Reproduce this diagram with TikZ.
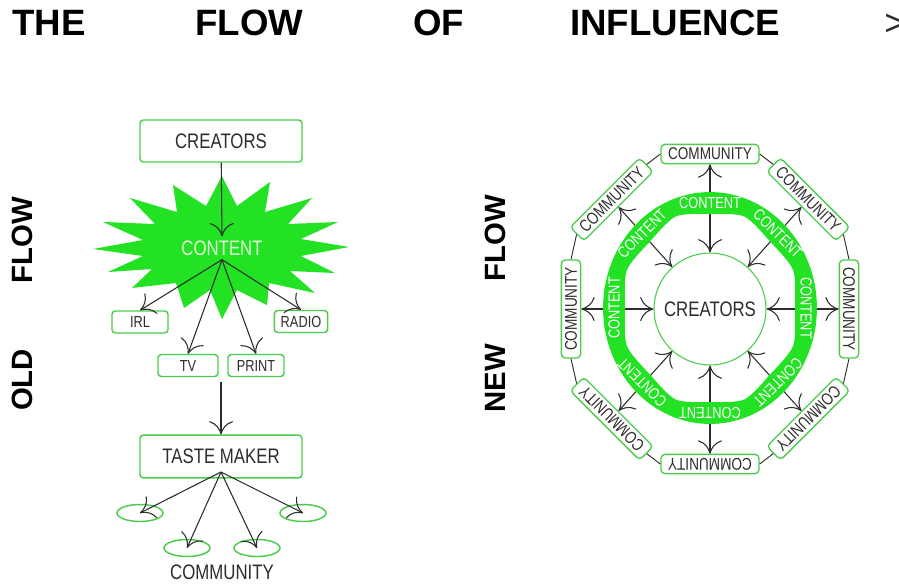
\documentclass[tikz,border=0pt]{standalone}
\usepackage{fontspec}
\setmainfont{Liberation Sans}
\newfontfamily\nf[FakeStretch=0.8]{Liberation Sans}
\usetikzlibrary{arrows.meta,shapes.geometric}
\definecolor{gfill}{RGB}{35,225,35}
\definecolor{gline}{RGB}{75,205,75}
\definecolor{ink}{RGB}{45,45,45}
\definecolor{pale}{RGB}{225,255,215}
\begin{document}
\begin{tikzpicture}[x=0.75pt,y=-0.75pt,
  box/.style={draw=gline, line width=1.1pt, rounded corners=2.5pt, inner sep=0pt, text=ink, font=\nf\fontsize{15.75}{18}\selectfont},
  sbox/.style={box, minimum height=16.5pt, font=\nf\fontsize{12}{14}\selectfont},
  cbox/.style={draw=gline, line width=1pt, rounded corners=3pt, inner sep=0pt, minimum width=73.5pt, minimum height=14.5pt, fill=white, text=ink, font=\nf\fontsize{12.75}{14}\selectfont},
  oval/.style={ellipse, draw=gline, line width=1.1pt, minimum width=34.5pt, minimum height=12.75pt, inner sep=0pt},
  arr/.style={draw=ink, line width=0.8pt, -{To[length=10pt,width=18pt]}},
  darr/.style={draw=ink, line width=0.8pt, {To[length=10pt,width=18pt]}-{To[length=10pt,width=18pt]}},
  ttl/.style={font=\bfseries\fontsize{27.5}{30}\selectfont, text=black, inner sep=0pt, anchor=base west},
  side/.style={font=\bfseries\fontsize{22}{24}\selectfont, text=black, rotate=90, inner sep=0pt},
  lbl/.style={font=\nf\fontsize{15.75}{18}\selectfont, text=ink},
]
\useasboundingbox (0,0) rectangle (899,583);
\fill[white] (0,0) rectangle (899,583);

% title
\node[ttl] (t1) at (12,35) {THE};
\node[ttl] (t2) at (195,35) {FLOW};
\node[ttl] (t3) at (413,35) {OF};
\node[ttl] (t4) at (570,35) {INFLUENCE};
\node[ttl, font=\fontsize{27.5}{30}\selectfont, text=ink] (t5) at (884,35) {>};

% side labels
\node[side] (sf1) at (22,240) {FLOW};
\node[side] (so) at (22,380) {OLD};
\node[side] (sf2) at (495,238) {FLOW};
\node[side] (sn) at (495,378) {NEW};

% ---------- OLD FLOW ----------
\fill[gfill, shift={(222,248)}]
  (-129,1) -- (-79,-8) -- (-119,-26) -- (-67,-24) -- (-92,-50) -- (-45,-36)
  -- (-49,-63) -- (-16,-42) -- (0,-72) -- (15,-42) -- (48,-66) -- (43,-36)
  -- (90,-50) -- (66,-24) -- (116,-26) -- (79,-9) -- (127,-1) -- (79,8)
  -- (113,25) -- (68,23) -- (93,45) -- (47,35) -- (45,57) -- (15,42)
  -- (0,71) -- (-12,42) -- (-38,60) -- (-46,35) -- (-90,40) -- (-70,21)
  -- (-114,24) -- (-79,8) -- cycle;
\node[lbl, text=pale, inner sep=3pt] (cnt) at (222,248) {CONTENT};

\node[box, minimum width=121.5pt, minimum height=31.5pt] (cr) at (221,141) {CREATORS};
\node[sbox, minimum width=42pt] (irl) at (140,322) {IRL};
\node[sbox, minimum width=40pt] (rad) at (301,321.5) {RADIO};
\node[sbox, minimum width=45pt] (tv) at (188,365.5) {TV};
\node[sbox, minimum width=42pt] (pr) at (256,365.5) {PRINT};
\node[box, minimum width=121.5pt, minimum height=32pt] (tm) at (221,456.5) {TASTE MAKER};
\node[oval] (e1) at (140,513) {};
\node[oval] (e2) at (187,548) {};
\node[oval] (e3) at (257,548) {};
\node[oval] (e4) at (303,513) {};
\node[lbl] (com) at (222,572) {COMMUNITY};

\draw[arr] (cr) -- (cnt.north);
\draw[arr] (cnt.south) -- (irl.north);
\draw[arr] (cnt.south) -- (tv.north);
\draw[arr] (cnt.south) -- (pr.north);
\draw[arr] (cnt.south) -- (rad.north);
\coordinate (mid) at (221,382);
\draw[arr] (mid) -- (tm.north);
\coordinate (tmf) at (221,472);
\draw[arr] (tmf) -- (e1.center);
\draw[arr] (tmf) -- (e2.center);
\draw[arr] (tmf) -- (e3.center);
\draw[arr] (tmf) -- (e4.center);

% ---------- NEW FLOW ----------
\node[circle, draw=gline, line width=0.8pt, minimum size=84pt, inner sep=0pt, lbl] (cre) at (710,309) {CREATORS};
\foreach \a/\n in {90/c1,45/c2,0/c3,-45/c4,-90/c5,-135/c6,180/c7,135/c8}{
  \node[cbox, rotate=\a-90] (\n) at ({710+139*cos(\a)},{309-155*sin(\a)}) {COMMUNITY};
}
\foreach \p/\q in {c1/c2,c2/c3,c3/c4,c4/c5,c5/c6,c6/c7,c7/c8,c8/c1}
  \draw[ink, line width=0.7pt] (\p.east) -- (\q.west);
\foreach \n in {c1,c2,c3,c4,c5,c6,c7,c8}
  \draw[darr] (cre) -- (\n);

\fill[gfill, even odd rule]
  plot[smooth cycle, samples at={0,10,...,350}, variable=\t] ({710+107*cos(\t)},{308-116*sin(\t)})
  plot[smooth cycle, tension=0.45, samples at={0,22.5,...,337.5}, variable=\t]
     ({710+(85+5*(1-cos(8*\t))/2)*cos(\t)},{308-(94+5*(1-cos(8*\t))/2)*sin(\t)});
\foreach \a/\n in {90/r1,45/r2,0/r3,-45/r4,-90/r5,-135/r6,180/r7,135/r8}{
  \node[text=white, font=\nf\fontsize{12}{14}\selectfont, inner sep=0pt, rotate=\a-90] (\n) at ({710+96*cos(\a)},{308-105*sin(\a)}) {CONTENT};
}
\end{tikzpicture}
\end{document}
